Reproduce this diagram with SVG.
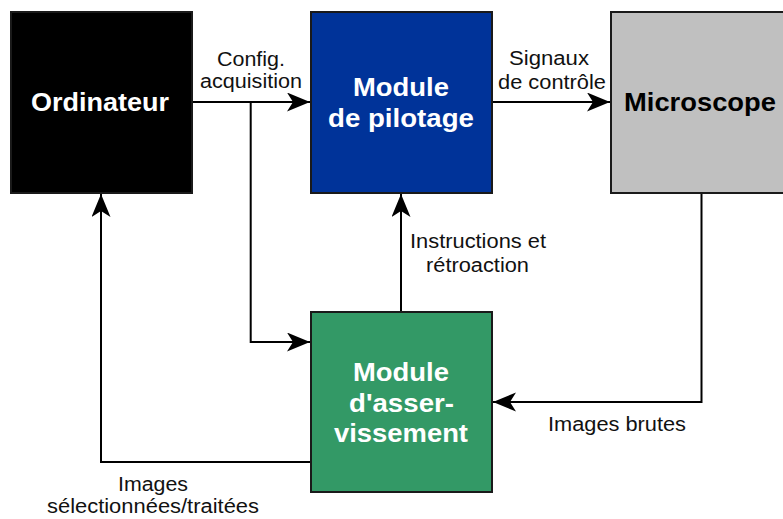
<svg xmlns="http://www.w3.org/2000/svg" width="783" height="519" viewBox="0 0 783 519">
<defs>
<style>
.box{stroke:#1a1a1a;stroke-width:2}
.bt{font-family:"Liberation Sans",Arial,sans-serif;font-weight:bold;font-size:26px;text-anchor:middle}
.lt{font-family:"Liberation Sans",Arial,sans-serif;font-size:20px;text-anchor:middle;fill:#111}
.ln{fill:none;stroke:#000;stroke-width:2}
</style>
<marker id="ah" markerUnits="userSpaceOnUse" markerWidth="24" markerHeight="20" refX="23" refY="9.5" orient="auto" viewBox="0 0 24 20">
<path d="M23,9.5 L0,0 L6,9.5 L0,19 Z" fill="#000"/>
</marker>
</defs>
<rect width="783" height="519" fill="#fff"/>
<g id="connectors">
<path class="ln" d="M192,102 H310" marker-end="url(#ah)"/>
<path class="ln" d="M250.7,102 V342 H310" marker-end="url(#ah)"/>
<path class="ln" d="M492,102 H610" marker-end="url(#ah)"/>
<path class="ln" d="M401,312 V194" marker-end="url(#ah)"/>
<path class="ln" d="M701.5,193 V402 H493" marker-end="url(#ah)"/>
<path class="ln" d="M311,462 H101 V194" marker-end="url(#ah)"/>
</g>
<g id="labels">
<text class="lt" x="251" y="66" textLength="68" lengthAdjust="spacingAndGlyphs">Config.</text>
<text class="lt" x="251" y="88" textLength="102" lengthAdjust="spacingAndGlyphs">acquisition</text>
<text class="lt" x="549" y="65" textLength="80" lengthAdjust="spacingAndGlyphs">Signaux</text>
<text class="lt" x="552" y="89" textLength="108" lengthAdjust="spacingAndGlyphs">de contrôle</text>
<text class="lt" x="478" y="248" textLength="136" lengthAdjust="spacingAndGlyphs">Instructions et</text>
<text class="lt" x="477.5" y="271.5" textLength="103" lengthAdjust="spacingAndGlyphs">rétroaction</text>
<text class="lt" x="617" y="430.5" textLength="138" lengthAdjust="spacingAndGlyphs">Images brutes</text>
<text class="lt" x="153" y="491" textLength="70" lengthAdjust="spacingAndGlyphs">Images</text>
<text class="lt" x="153" y="513" textLength="212" lengthAdjust="spacingAndGlyphs">sélectionnées/traitées</text>
</g>
<g id="ordinateur">
<rect class="box" x="11" y="12" width="181" height="181" fill="#000"/>
<text class="bt" x="100" y="111" fill="#fff" textLength="138" lengthAdjust="spacingAndGlyphs">Ordinateur</text>
</g>
<g id="pilotage">
<rect class="box" x="311" y="12" width="181" height="181" fill="#003399"/>
<text class="bt" x="401" y="95.5" fill="#fff" textLength="96" lengthAdjust="spacingAndGlyphs">Module</text>
<text class="bt" x="401" y="127" fill="#fff" textLength="146" lengthAdjust="spacingAndGlyphs">de pilotage</text>
</g>
<g id="microscope">
<rect class="box" x="611" y="12" width="181" height="181" fill="#c0c0c0"/>
<text class="bt" x="700" y="111" fill="#000" textLength="152" lengthAdjust="spacingAndGlyphs">Microscope</text>
</g>
<g id="asservissement">
<rect class="box" x="311" y="312" width="181" height="180" fill="#339966"/>
<text class="bt" x="401" y="380.5" fill="#fff" textLength="96" lengthAdjust="spacingAndGlyphs">Module</text>
<text class="bt" x="401.5" y="411.5" fill="#fff" textLength="105" lengthAdjust="spacingAndGlyphs">d'asser-</text>
<text class="bt" x="401" y="441.5" fill="#fff" textLength="134" lengthAdjust="spacingAndGlyphs">vissement</text>
</g>
</svg>
